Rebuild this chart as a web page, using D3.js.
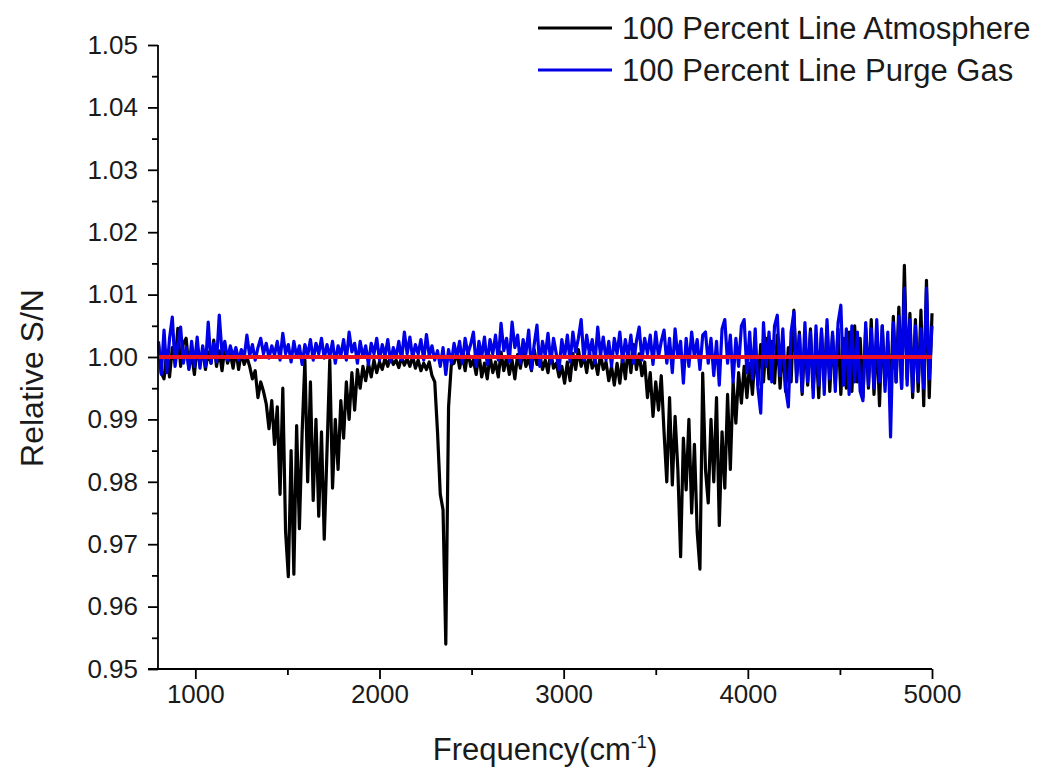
<!DOCTYPE html>
<html>
<head>
<meta charset="utf-8">
<script src="https://cdn.jsdelivr.net/npm/d3@7/dist/d3.min.js"></script>
<style>
body { margin: 0; background: #fff; }
text { font-family: "Liberation Sans", Arial, sans-serif; fill: #1a1a1a; }
</style>
</head>
<body>
<svg id="chart"></svg>
<script>
// frequency grid (cm-1): 800, 815, ... 5000
let freq_start = 800
let freq_step = 15

// 100 percent line, atmosphere (black)
let atmosphere = [
1.0020,0.9975,0.9965,1.0010,0.9968,1.0015,0.9990,1.0046,0.9985,1.0022,
1.0030,0.9982,1.0005,0.9972,1.0018,0.9988,1.0012,0.9980,1.0008,0.9990,
1.0027,0.9985,1.0010,0.9978,1.0015,0.9990,1.0005,0.9982,1.0012,0.9980,
1.0008,0.9988,1.0000,0.9985,0.9965,0.9978,0.9935,0.9960,0.9945,0.9925,
0.9885,0.9930,0.9860,0.9920,0.9780,0.9950,0.9720,0.9648,0.9850,0.9652,
0.9890,0.9725,0.9880,0.9995,0.9800,0.9960,0.9770,0.9900,0.9745,0.9880,
0.9708,0.9850,0.9995,0.9790,0.9900,0.9820,0.9930,0.9870,0.9960,0.9900,
0.9975,0.9915,0.9980,0.9950,0.9985,0.9962,0.9990,0.9968,0.9995,0.9975,
0.9992,0.9980,0.9998,0.9985,1.0002,0.9988,0.9995,0.9983,1.0000,0.9987,
0.9997,0.9985,1.0001,0.9982,0.9995,0.9978,0.9990,0.9980,0.9992,0.9970,
0.9960,0.9880,0.9780,0.9755,0.9540,0.9920,0.9988,0.9990,1.0008,0.9982,
1.0005,0.9978,1.0010,0.9985,0.9995,0.9972,1.0006,0.9968,0.9990,0.9965,
1.0002,0.9975,0.9992,0.9968,1.0008,0.9978,1.0000,0.9972,0.9995,0.9965,
1.0004,0.9982,1.0010,0.9985,0.9998,0.9978,1.0012,0.9988,1.0005,0.9980,
0.9995,0.9975,1.0008,0.9982,0.9990,0.9968,0.9985,0.9958,0.9992,0.9962,
1.0006,0.9980,1.0012,0.9985,1.0002,0.9975,1.0008,0.9982,0.9995,0.9972,
1.0005,0.9980,0.9992,0.9962,0.9985,0.9955,0.9990,0.9958,1.0000,0.9965,
1.0015,0.9975,1.0020,0.9980,1.0005,0.9970,0.9992,0.9935,0.9975,0.9905,
0.9960,0.9915,0.9970,0.9880,0.9800,0.9935,0.9795,0.9905,0.9820,0.9680,
0.9870,0.9787,0.9900,0.9750,0.9860,0.9720,0.9660,0.9974,0.9820,0.9766,
0.9900,0.9800,0.9935,0.9730,0.9880,0.9790,0.9940,0.9820,0.9960,0.9894,
0.9975,0.9926,0.9985,0.9935,0.9990,0.9940,1.0010,0.9955,1.0020,0.9960,
1.0030,0.9965,1.0025,0.9958,1.0035,0.9950,1.0020,0.9945,1.0015,0.9960,
1.0075,0.9970,1.0040,0.9940,1.0030,0.9955,1.0045,0.9950,1.0020,0.9935,
1.0040,0.9960,1.0050,0.9945,1.0035,0.9958,1.0045,0.9940,1.0030,0.9950,
1.0040,0.9945,1.0050,0.9960,1.0030,0.9935,1.0045,0.9950,1.0060,0.9940,
1.0035,0.9922,1.0050,0.9955,1.0025,0.9945,1.0065,0.9960,1.0080,0.9950,
1.0147,0.9965,1.0070,0.9935,1.0060,0.9945,1.0075,0.9922,1.0123,0.9935,
1.0070
]

// 100 percent line, purge gas (blue)
let purge_gas = [
1.0025,0.9972,1.0043,0.9975,1.0030,1.0064,0.9985,1.0020,1.0048,0.9990,
1.0015,0.9980,1.0025,0.9985,1.0032,0.9982,1.0018,0.9985,1.0056,0.9990,
1.0022,0.9992,1.0067,1.0005,1.0025,0.9995,1.0018,1.0000,1.0015,0.9995,
1.0012,0.9998,1.0035,1.0002,1.0020,0.9995,1.0015,1.0030,1.0005,1.0022,
0.9998,1.0018,1.0003,1.0025,0.9995,1.0038,1.0005,1.0020,0.9992,1.0025,
1.0000,1.0018,0.9988,1.0020,1.0002,1.0028,0.9995,1.0022,1.0005,1.0030,
0.9998,1.0020,1.0000,1.0025,0.9990,1.0018,1.0002,1.0028,0.9995,1.0040,
1.0008,1.0022,0.9990,1.0025,1.0000,1.0018,0.9988,1.0022,1.0005,1.0030,
0.9995,1.0020,1.0002,1.0028,0.9992,1.0015,1.0000,1.0025,0.9995,1.0040,
1.0005,1.0032,0.9998,1.0020,1.0005,1.0028,0.9995,1.0036,1.0002,1.0018,
0.9995,1.0010,0.9985,1.0015,0.9972,1.0012,0.9990,1.0022,1.0000,1.0025,
0.9990,1.0030,1.0005,1.0020,1.0040,0.9985,1.0025,1.0000,1.0032,0.9988,
1.0028,1.0005,1.0035,0.9995,1.0054,1.0010,1.0030,0.9992,1.0056,1.0015,
1.0035,0.9990,1.0028,1.0005,1.0043,0.9980,1.0020,1.0051,0.9985,1.0025,
1.0002,1.0038,0.9990,1.0030,1.0005,0.9980,1.0028,1.0000,1.0035,0.9992,
1.0040,1.0008,1.0030,1.0060,0.9995,1.0035,1.0005,1.0028,0.9990,1.0048,
1.0002,1.0032,0.9995,1.0025,0.9985,1.0030,1.0005,1.0040,0.9992,1.0028,
1.0000,1.0035,0.9990,1.0025,1.0048,0.9995,1.0030,1.0005,1.0035,0.9988,
1.0040,1.0000,1.0025,1.0043,0.9990,1.0030,0.9975,1.0045,1.0000,1.0025,
0.9958,1.0030,0.9985,1.0040,1.0000,1.0028,0.9980,1.0035,1.0040,0.9990,
1.0030,0.9970,1.0025,0.9955,1.0045,1.0060,0.9990,1.0035,0.9960,1.0030,
0.9985,1.0050,1.0060,0.9975,1.0040,0.9965,1.0045,0.9950,0.9910,1.0055,
0.9985,1.0040,0.9960,1.0050,1.0067,0.9970,1.0045,0.9950,0.9920,1.0040,
1.0072,0.9960,1.0035,0.9945,1.0055,0.9960,1.0040,0.9935,1.0050,0.9955,
1.0045,0.9940,1.0060,0.9965,1.0040,0.9945,1.0055,1.0083,0.9955,1.0045,
0.9940,1.0050,0.9960,1.0040,0.9945,0.9930,1.0055,0.9955,1.0045,0.9950,
1.0060,0.9960,1.0050,0.9945,1.0040,0.9872,1.0055,0.9960,1.0065,0.9950,
1.0110,0.9955,1.0060,0.9945,1.0050,0.9960,1.0045,0.9950,1.0110,0.9965,
1.0050
]

let ref_level = 1.00

let x_ticks = [1000, 2000, 3000, 4000, 5000]
let x_minor = [1500, 2500, 3500, 4500]
let y_ticks = [0.95, 0.96, 0.97, 0.98, 0.99, 1.00, 1.01, 1.02, 1.03, 1.04, 1.05]
let y_minor = [0.955, 0.965, 0.975, 0.985, 0.995, 1.005, 1.015, 1.025, 1.035, 1.045]

let legend_items = [
    {label: "100 Percent Line Atmosphere", color: "#000000"},
    {label: "100 Percent Line Purge Gas", color: "#0000e6"}
]

let width = 1055, height = 772

let svg = d3.select('#chart')
    .attr('width', width)
    .attr('height', height)

let x = d3.scaleLinear().domain([800, 5000]).range([158.5, 932])
let y = d3.scaleLinear().domain([0.95, 1.05]).range([669, 45])

let to_points = function(arr){
    return arr.map(function(v, i){ return {f: freq_start + i * freq_step, v: v} })
}

let line = d3.line()
    .x(function(d){ return x(d.f) })
    .y(function(d){ return y(d.v) })

// series
svg.append("path")
    .datum(to_points(atmosphere))
    .attr("d", line)
    .attr("fill", "none")
    .attr("stroke", "#000")
    .attr("stroke-width", 3.2)
    .attr("stroke-linejoin", "round")

svg.append("path")
    .datum(to_points(purge_gas))
    .attr("d", line)
    .attr("fill", "none")
    .attr("stroke", "#0000e6")
    .attr("stroke-width", 3.2)
    .attr("stroke-linejoin", "round")

svg.append("path")
    .datum([{f: 800, v: ref_level}, {f: 5000, v: ref_level}])
    .attr("d", line)
    .attr("fill", "none")
    .attr("stroke", "#ee1122")
    .attr("stroke-width", 4)

// axes
let y_axis = svg.append("g")
    .attr("transform", "translate(158,0)")
    .call(d3.axisLeft(y).tickValues(y_ticks).tickFormat(d3.format(".2f")).tickSize(10).tickPadding(10))
y_axis.selectAll("text").style("font-size", "26px")

let y_axis_minor = svg.append("g")
    .attr("transform", "translate(158,0)")
    .call(d3.axisLeft(y).tickValues(y_minor).tickFormat("").tickSize(6))
y_axis_minor.select(".domain").remove()

let x_axis = svg.append("g")
    .attr("transform", "translate(0,669)")
    .call(d3.axisBottom(x).tickValues(x_ticks).tickFormat(d3.format("d")).tickSize(10).tickPadding(6))
x_axis.selectAll("text").style("font-size", "26px")

let x_axis_minor = svg.append("g")
    .attr("transform", "translate(0,669)")
    .call(d3.axisBottom(x).tickValues(x_minor).tickFormat("").tickSize(6))
x_axis_minor.select(".domain").remove()

y_axis.select(".domain").attr("d", "M0," + y.range()[1] + "V" + y.range()[0])
x_axis.select(".domain").attr("d", "M148,0H932")

svg.selectAll(".domain, .tick line")
    .attr("stroke", "#000")
    .attr("stroke-width", 1.8)

// axis titles
let x_title = svg.append("text")
    .attr("x", 545)
    .attr("y", 760)
    .attr("text-anchor", "middle")
    .style("font-size", "31px")
x_title.append("tspan").text("Frequency(cm")
x_title.append("tspan").attr("dy", -12).style("font-size", "18px").text("-1")
x_title.append("tspan").attr("dy", 12).text(")")

svg.append("text")
    .attr("transform", "translate(43,378) rotate(-90)")
    .attr("text-anchor", "middle")
    .style("font-size", "32px")
    .text("Relative S/N")

// legend
let leg = svg.selectAll("g.legend")
    .data(legend_items)
    .enter()
    .append("g")
    .attr("class", "legend")
    .attr("transform", function(d, i){ return "translate(538," + (28 + i * 42) + ")" })

leg.append("line")
    .attr("x1", 0)
    .attr("x2", 74)
    .attr("y1", 0)
    .attr("y2", 0)
    .attr("stroke", function(d){ return d.color })
    .attr("stroke-width", 3)

leg.append("text")
    .attr("x", 84)
    .attr("y", 11)
    .style("font-size", "31px")
    .text(function(d){ return d.label })
</script>
</body>
</html>
